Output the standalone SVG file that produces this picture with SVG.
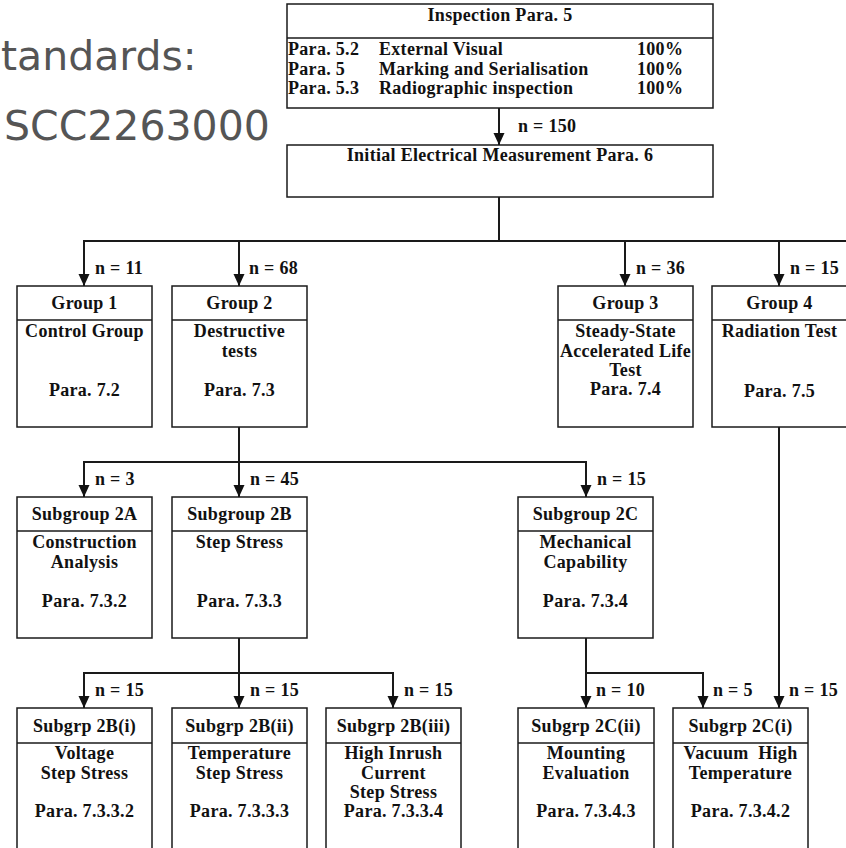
<svg xmlns="http://www.w3.org/2000/svg" width="846" height="848" viewBox="0 0 846 848">
<style>
.box{fill:#fff;stroke:#1a1a1a;stroke-width:1.5}
.div{stroke:#1a1a1a;stroke-width:1.5}
.t{font-family:"Liberation Serif","Times New Roman",serif;font-weight:bold;font-size:18px;letter-spacing:0.3px;fill:#111}
.c{text-anchor:middle}
.con{stroke:#1a1a1a;stroke-width:2;fill:none}
.big{font-family:"DejaVu Sans","Verdana",sans-serif;font-size:41px;fill:#555}
</style>
<defs>
<marker id="arr" viewBox="0 0 12 12" refX="12" refY="6" markerWidth="12" markerHeight="12" markerUnits="userSpaceOnUse" orient="auto">
<path d="M0,0.5 L12,6 L0,11.5 z" fill="#111"/>
</marker>
</defs>
<rect width="846" height="848" fill="#fff"/>

<g id="bg-text">
<text class="big" x="1" y="70">tandards:</text>
<text class="big" x="4" y="140">SCC2263000</text>
</g>

<g id="connectors">
<line class="con" x1="499" y1="108" x2="499" y2="145" marker-end="url(#arr)"/>
<line class="con" x1="499" y1="197" x2="499" y2="241"/>
<line class="con" x1="83" y1="241" x2="847" y2="241"/>
<line class="con" x1="84" y1="241" x2="84" y2="286" marker-end="url(#arr)"/>
<line class="con" x1="239" y1="241" x2="239" y2="286" marker-end="url(#arr)"/>
<line class="con" x1="625" y1="241" x2="625" y2="286" marker-end="url(#arr)"/>
<line class="con" x1="779" y1="241" x2="779" y2="286" marker-end="url(#arr)"/>
<line class="con" x1="239" y1="427" x2="239" y2="462"/>
<path class="con" d="M83,462 H586"/>
<line class="con" x1="84" y1="462" x2="84" y2="497" marker-end="url(#arr)"/>
<line class="con" x1="239" y1="462" x2="239" y2="497" marker-end="url(#arr)"/>
<line class="con" x1="586" y1="461" x2="586" y2="497" marker-end="url(#arr)"/>
<line class="con" x1="779" y1="427" x2="779" y2="708" marker-end="url(#arr)"/>
<line class="con" x1="239" y1="638" x2="239" y2="673"/>
<path class="con" d="M83,673 H393"/>
<line class="con" x1="84" y1="673" x2="84" y2="708" marker-end="url(#arr)"/>
<line class="con" x1="239" y1="673" x2="239" y2="708" marker-end="url(#arr)"/>
<line class="con" x1="393" y1="672" x2="393" y2="708" marker-end="url(#arr)"/>
<path class="con" d="M586,638 V673 H703"/>
<line class="con" x1="586" y1="673" x2="586" y2="708" marker-end="url(#arr)"/>
<line class="con" x1="703" y1="672" x2="703" y2="708" marker-end="url(#arr)"/>
<text class="t" x="518" y="132">n = 150</text>
<text class="t" x="95" y="274">n = 11</text>
<text class="t" x="249" y="274">n = 68</text>
<text class="t" x="636" y="274">n = 36</text>
<text class="t" x="790" y="274">n = 15</text>
<text class="t" x="95" y="485">n = 3</text>
<text class="t" x="250" y="485">n = 45</text>
<text class="t" x="597" y="485">n = 15</text>
<text class="t" x="95" y="696">n = 15</text>
<text class="t" x="250" y="696">n = 15</text>
<text class="t" x="404" y="696">n = 15</text>
<text class="t" x="596" y="696">n = 10</text>
<text class="t" x="713" y="696">n = 5</text>
<text class="t" x="789" y="696">n = 15</text>
</g>

<g id="inspection">
<rect class="box" x="287" y="4" width="426" height="104"/>
<line class="div" x1="287" y1="38" x2="713" y2="38"/>
<text class="t c" x="500" y="21">Inspection Para. 5</text>
<text class="t" x="288" y="55">Para. 5.2</text>
<text class="t" x="379" y="55">External Visual</text>
<text class="t" x="637" y="55">100%</text>
<text class="t" x="288" y="75">Para. 5</text>
<text class="t" x="379" y="75">Marking and Serialisation</text>
<text class="t" x="637" y="75">100%</text>
<text class="t" x="288" y="94">Para. 5.3</text>
<text class="t" x="379" y="94">Radiographic inspection</text>
<text class="t" x="637" y="94">100%</text>
</g>

<g id="initial">
<rect class="box" x="287" y="145" width="426" height="52"/>
<text class="t c" x="500" y="161">Initial Electrical Measurement Para. 6</text>
</g>

<g id="group1">
<rect class="box" x="17" y="286" width="135" height="141"/>
<line class="div" x1="17" y1="320" x2="152" y2="320"/>
<text class="t c" x="84.5" y="309">Group 1</text>
<text class="t c" x="84.5" y="337">Control Group</text>
<text class="t c" x="84.5" y="396">Para. 7.2</text>
</g>

<g id="group2">
<rect class="box" x="172" y="286" width="135" height="141"/>
<line class="div" x1="172" y1="320" x2="307" y2="320"/>
<text class="t c" x="239.5" y="309">Group 2</text>
<text class="t c" x="239.5" y="337">Destructive</text>
<text class="t c" x="239.5" y="357">tests</text>
<text class="t c" x="239.5" y="396">Para. 7.3</text>
</g>

<g id="group3">
<rect class="box" x="558" y="286" width="135" height="141"/>
<line class="div" x1="558" y1="320" x2="693" y2="320"/>
<text class="t c" x="625.5" y="309">Group 3</text>
<text class="t c" x="625.5" y="337">Steady-State</text>
<text class="t c" x="625.5" y="357">Accelerated Life</text>
<text class="t c" x="625.5" y="376">Test</text>
<text class="t c" x="625.5" y="395">Para. 7.4</text>
</g>

<g id="group4">
<rect class="box" x="712" y="286" width="136" height="141"/>
<line class="div" x1="712" y1="320" x2="848" y2="320"/>
<text class="t c" x="779.5" y="309">Group 4</text>
<text class="t c" x="779.5" y="337">Radiation Test</text>
<text class="t c" x="779.5" y="397">Para. 7.5</text>
</g>

<g id="sub2a">
<rect class="box" x="17" y="497" width="135" height="141"/>
<line class="div" x1="17" y1="531" x2="152" y2="531"/>
<text class="t c" x="84.5" y="520">Subgroup 2A</text>
<text class="t c" x="84.5" y="548">Construction</text>
<text class="t c" x="84.5" y="568">Analysis</text>
<text class="t c" x="84.5" y="607">Para. 7.3.2</text>
</g>

<g id="sub2b">
<rect class="box" x="172" y="497" width="135" height="141"/>
<line class="div" x1="172" y1="531" x2="307" y2="531"/>
<text class="t c" x="239.5" y="520">Subgroup 2B</text>
<text class="t c" x="239.5" y="548">Step Stress</text>
<text class="t c" x="239.5" y="607">Para. 7.3.3</text>
</g>

<g id="sub2c">
<rect class="box" x="518" y="497" width="135" height="141"/>
<line class="div" x1="518" y1="531" x2="653" y2="531"/>
<text class="t c" x="585.5" y="520">Subgroup 2C</text>
<text class="t c" x="585.5" y="548">Mechanical</text>
<text class="t c" x="585.5" y="568">Capability</text>
<text class="t c" x="585.5" y="607">Para. 7.3.4</text>
</g>

<g id="sub2bi">
<rect class="box" x="17" y="708" width="135" height="160"/>
<line class="div" x1="17" y1="743" x2="152" y2="743"/>
<text class="t c" x="84.5" y="732">Subgrp 2B(i)</text>
<text class="t c" x="84.5" y="759">Voltage</text>
<text class="t c" x="84.5" y="779">Step Stress</text>
<text class="t c" x="84.5" y="817">Para. 7.3.3.2</text>
</g>

<g id="sub2bii">
<rect class="box" x="172" y="708" width="135" height="160"/>
<line class="div" x1="172" y1="743" x2="307" y2="743"/>
<text class="t c" x="239.5" y="732">Subgrp 2B(ii)</text>
<text class="t c" x="239.5" y="759">Temperature</text>
<text class="t c" x="239.5" y="779">Step Stress</text>
<text class="t c" x="239.5" y="817">Para. 7.3.3.3</text>
</g>

<g id="sub2biii">
<rect class="box" x="326" y="708" width="135" height="160"/>
<line class="div" x1="326" y1="743" x2="461" y2="743"/>
<text class="t c" x="393.5" y="732">Subgrp 2B(iii)</text>
<text class="t c" x="393.5" y="759">High Inrush</text>
<text class="t c" x="393.5" y="779">Current</text>
<text class="t c" x="393.5" y="798">Step Stress</text>
<text class="t c" x="393.5" y="817">Para. 7.3.3.4</text>
</g>

<g id="sub2cii">
<rect class="box" x="518" y="708" width="136" height="160"/>
<line class="div" x1="518" y1="743" x2="654" y2="743"/>
<text class="t c" x="586" y="732">Subgrp 2C(ii)</text>
<text class="t c" x="586" y="759">Mounting</text>
<text class="t c" x="586" y="779">Evaluation</text>
<text class="t c" x="586" y="817">Para. 7.3.4.3</text>
</g>

<g id="sub2ci">
<rect class="box" x="673" y="708" width="135" height="160"/>
<line class="div" x1="673" y1="743" x2="808" y2="743"/>
<text class="t c" x="740.5" y="732">Subgrp 2C(i)</text>
<text class="t c" x="740.5" y="759" xml:space="preserve">Vacuum  High</text>
<text class="t c" x="740.5" y="779">Temperature</text>
<text class="t c" x="740.5" y="817">Para. 7.3.4.2</text>
</g>
</svg>
